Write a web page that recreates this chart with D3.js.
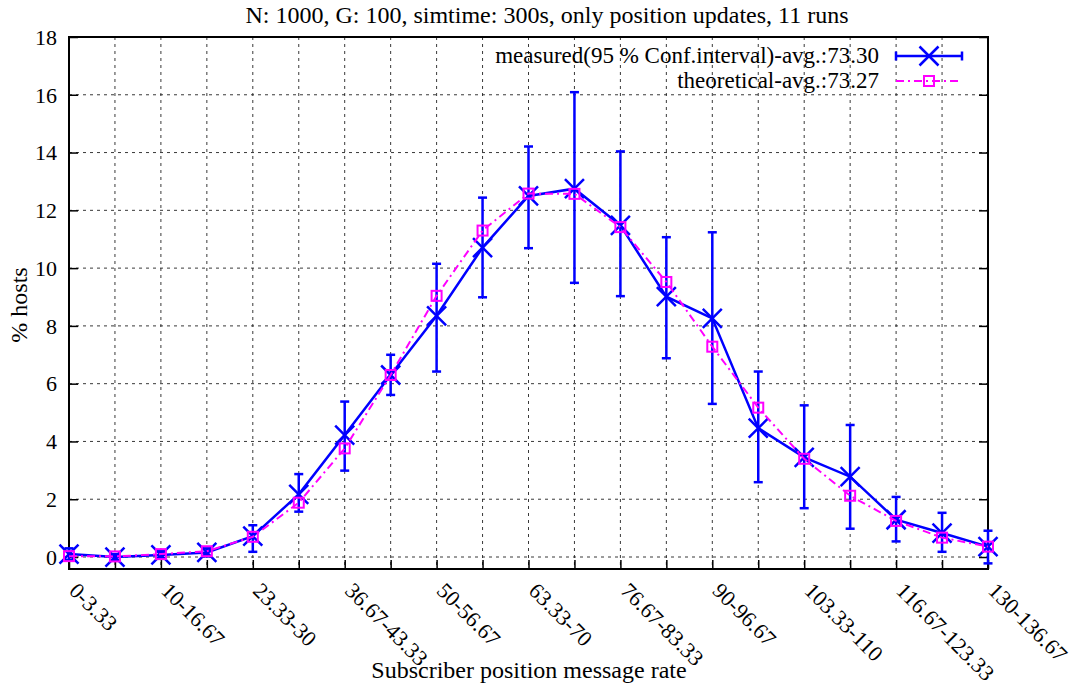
<!DOCTYPE html>
<html><head><meta charset="utf-8">
<script src="https://cdn.jsdelivr.net/npm/d3@7"></script>
<style>
body{margin:0;background:#fff;}
text{font-family:"Liberation Serif","Times New Roman",serif;fill:#000;}
</style></head>
<body><svg id="c" width="1077" height="688"></svg>
<script>
const categories = ["0-3.33","3.33-10","10-16.67","16.67-23.33","23.33-30","30-36.67","36.67-43.33","43.33-50","50-56.67","56.67-63.33","63.33-70","70-76.67","76.67-83.33","83.33-90","90-96.67","96.67-103.33","103.33-110","110-116.67","116.67-123.33","123.33-130","130-136.67"];
const measured  = [0.10,0.00,0.07,0.16,0.72,2.17,4.22,6.30,8.35,10.71,12.50,12.75,11.48,9.01,8.26,4.46,3.45,2.78,1.29,0.83,0.36];
const errLow    = [-0.1,-0.1,-0.05,0.02,0.18,1.57,2.99,5.61,6.42,8.99,10.69,9.49,9.03,6.88,5.30,2.59,1.69,0.98,0.54,0.18,-0.22];
const errHigh   = [0.3,0.1,0.2,0.3,1.10,2.87,5.38,7.00,10.15,12.44,14.21,16.09,14.04,11.07,11.24,6.42,5.25,4.57,2.08,1.53,0.91];
const theoretical = [0.03,0.02,0.10,0.20,0.70,1.88,3.76,6.30,9.04,11.30,12.58,12.57,11.42,9.52,7.28,5.17,3.40,2.12,1.25,0.67,0.36];
const yTicks = [0,2,4,6,8,10,12,14,16,18];
const title = "N: 1000, G: 100, simtime: 300s, only position updates, 11 runs";
const legendMeasured = "measured(95 % Conf.interval)-avg.:73.30";
const legendTheo = "theoretical-avg.:73.27";

const svg = d3.select("#c");
const L=69,R=988,T=37,B=569;
const x = d3.scaleLinear().domain([0,categories.length-1]).range([L,R]);
const y = d3.scaleLinear().domain([-0.415,18]).range([B,T]);
const idx = d3.range(categories.length);

// grid
const g = svg.append("g");
g.selectAll(".hg").data(yTicks.filter(d=>d<18)).join("line")
 .attr("x1",L).attr("x2",R).attr("y1",d=>y(d)).attr("y2",d=>y(d))
 .attr("stroke","#222").attr("stroke-width",0.9).attr("stroke-dasharray","3,4");
g.selectAll(".vg").data(idx.slice(1,-1)).join("line")
 .attr("x1",d=>x(d)).attr("x2",d=>x(d)).attr("y1",T).attr("y2",B)
 .attr("stroke","#222").attr("stroke-width",0.9).attr("stroke-dasharray","3,4");

// axes via d3
const yAxisL = d3.axisLeft(y).tickValues(yTicks).tickSize(-9).tickPadding(12).tickFormat(d3.format("d"));
const ya = svg.append("g").attr("transform",`translate(${L},0)`).call(yAxisL);
ya.select(".domain").remove();
ya.selectAll("line").attr("stroke","#000").attr("stroke-width",1.5);
ya.selectAll("text").style("font-size","22px").attr("font-family","Liberation Serif").attr("dy","0.33em");
const yAxisR = d3.axisRight(y).tickValues(yTicks).tickSize(-9).tickFormat("");
const yr = svg.append("g").attr("transform",`translate(${R},0)`).call(yAxisR);
yr.select(".domain").remove();
yr.selectAll("line").attr("stroke","#000").attr("stroke-width",1.5);

const xAxis = d3.axisBottom(x).tickValues(idx).tickSize(-9).tickFormat("");
const xa = svg.append("g").attr("transform",`translate(0,${B})`).call(xAxis);
xa.select(".domain").remove();
xa.selectAll("line").attr("stroke","#000").attr("stroke-width",1.5);

// rotated tick labels
svg.append("g").selectAll("text").data(idx.filter(i=>i%2===0)).join("text")
 .attr("transform",i=>`translate(${x(i)-1},${B+23}) rotate(45)`)
 .attr("text-anchor","start").style("font-size","22px")
 .text(i=>categories[i]);

// border
svg.append("rect").attr("x",L).attr("y",T).attr("width",R-L).attr("height",B-T)
 .attr("fill","none").attr("stroke","#000").attr("stroke-width",2);

// measured series
const blue="#0000ff", pink="#ff00ff";
const line = d3.line().x((d,i)=>x(i)).y(d=>y(d));
svg.append("path").datum(measured).attr("d",line).attr("fill","none")
 .attr("stroke",blue).attr("stroke-width",2.5);
const eb = svg.append("g").attr("stroke",blue).attr("stroke-width",2.5);
eb.selectAll(".e").data(idx).join("line")
 .attr("x1",i=>x(i)).attr("x2",i=>x(i)).attr("y1",i=>y(errLow[i])).attr("y2",i=>y(errHigh[i]));
eb.selectAll(".c1").data(idx).join("line")
 .attr("x1",i=>x(i)-4.5).attr("x2",i=>x(i)+4.5).attr("y1",i=>y(errLow[i])).attr("y2",i=>y(errLow[i]));
eb.selectAll(".c2").data(idx).join("line")
 .attr("x1",i=>x(i)-4.5).attr("x2",i=>x(i)+4.5).attr("y1",i=>y(errHigh[i])).attr("y2",i=>y(errHigh[i]));
function xMark(sel,cx,cy){
  const s=9.5;
  sel.append("path").attr("d",`M${cx-s},${cy-s}L${cx+s},${cy+s}M${cx-s},${cy+s}L${cx+s},${cy-s}`)
   .attr("stroke",blue).attr("stroke-width",2.5).attr("fill","none");
}
const mk = svg.append("g");
idx.forEach(i=>xMark(mk,x(i),y(measured[i])));

// theoretical series
svg.append("path").datum(theoretical).attr("d",line).attr("fill","none")
 .attr("stroke",pink).attr("stroke-width",2).attr("stroke-dasharray","8,4,2,4");
svg.append("g").selectAll("rect").data(idx).join("rect")
 .attr("x",i=>x(i)-5).attr("y",i=>y(theoretical[i])-5).attr("width",10).attr("height",10)
 .attr("fill","none").attr("stroke",pink).attr("stroke-width",2);

// legend
const lx1=896,lx2=962,lc=929;
svg.append("text").attr("x",879).attr("y",63).attr("text-anchor","end").style("font-size","23px").text(legendMeasured);
svg.append("text").attr("x",879).attr("y",88).attr("text-anchor","end").style("font-size","23px").text(legendTheo);
const lg = svg.append("g").attr("stroke",blue).attr("stroke-width",2.5);
lg.append("line").attr("x1",lx1).attr("x2",lx2).attr("y1",56).attr("y2",56);
lg.append("line").attr("x1",lx1).attr("x2",lx1).attr("y1",51.5).attr("y2",60.5);
lg.append("line").attr("x1",lx2).attr("x2",lx2).attr("y1",51.5).attr("y2",60.5);
xMark(svg.append("g"),lc,56);
svg.append("line").attr("x1",lx1).attr("x2",lx2).attr("y1",81).attr("y2",81)
 .attr("stroke",pink).attr("stroke-width",2).attr("stroke-dasharray","8,4,2,4");
svg.append("rect").attr("x",lc-5).attr("y",76).attr("width",10).attr("height",10)
 .attr("fill","none").attr("stroke",pink).attr("stroke-width",2);

// titles
svg.append("text").attr("x",547).attr("y",23).attr("text-anchor","middle").style("font-size","24px").text(title);
svg.append("text").attr("x",529).attr("y",678).attr("text-anchor","middle").style("font-size","24px").text("Subscriber position message rate");
svg.append("text").attr("transform","translate(27,305) rotate(-90)").attr("text-anchor","middle").style("font-size","24px").text("% hosts");
</script></body></html>
